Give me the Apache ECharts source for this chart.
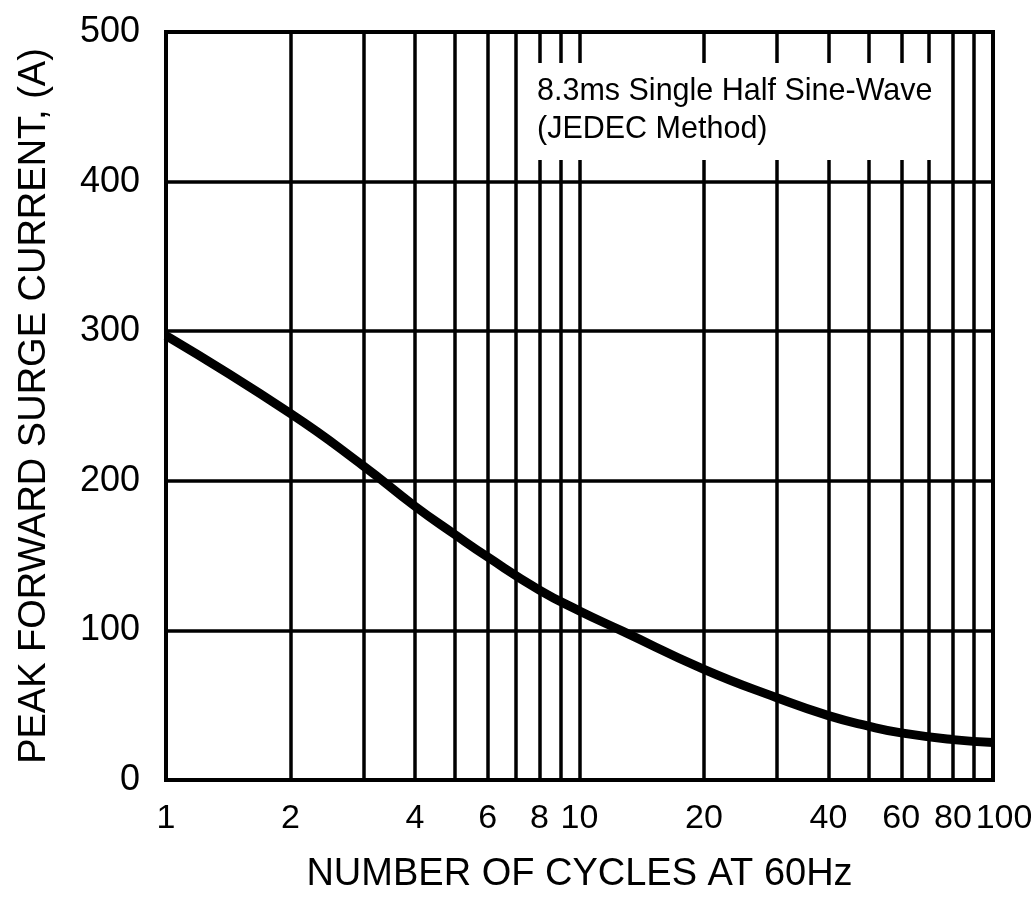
<!DOCTYPE html>
<html lang="en">
<head>
  <meta charset="UTF-8">
  <title>Peak Forward Surge Current</title>
  <style type="text/css">
    * {
      margin: 0;
      padding: 0;
    }
    html, body {
      width: 100%;
      height: 100%;
      overflow: hidden;
      background: #fff;
    }
    #main {
      width: 1031px;
      height: 898px;
    }
  </style>
  <script type="text/javascript" src="https://cdn.jsdelivr.net/npm/echarts@6/dist/echarts.min.js"></script>
</head>
<body>
<div id="main"></div>
<script type="text/javascript">
  // cycles at 60Hz (log axis) and surge current
  var cycles = [1, 2, 3, 4, 5, 6, 8, 10, 12.7, 20, 30, 40, 50, 60, 80, 100];
  var current = [297, 245, 210, 183, 164, 149, 127, 113, 99.5, 74, 55, 43, 36, 31.5, 27, 25];

  // vertical grid lines and labelled ticks
  var xGrid = [1, 2, 3, 4, 5, 6, 7, 8, 9, 10, 20, 30, 40, 50, 60, 70, 80, 90, 100];
  var xLabels = [1, 2, 4, 6, 8, 10, 20, 40, 60, 80];
  var xEndLabel = [100];

  var fontName = "'Liberation Sans', Arial, sans-serif";

  var points = [];
  for (var i = 0; i < cycles.length; i++) {
    points.push([cycles[i], current[i]]);
  }

  var tickFont = { fontFamily: fontName, fontSize: 34, color: '#000', margin: 22 };

  var myChart = echarts.init(document.getElementById('main'));
  var option = {
    animation: false,
    backgroundColor: '#fff',
    grid: {
      left: 166,
      right: 38,
      top: 32,
      bottom: 118,
      show: true,
      borderWidth: 4,
      borderColor: '#000',
      containLabel: false,
      outerBoundsMode: 'none'
    },
    xAxis: [
      {
        type: 'log',
        logBase: 10,
        min: 1,
        max: 100,
        name: 'NUMBER OF CYCLES AT 60Hz',
        nameLocation: 'middle',
        nameGap: 76,
        nameTextStyle: { fontFamily: fontName, fontSize: 38, color: '#000' },
        axisLine: { show: false },
        axisTick: { show: false, customValues: xGrid },
        axisLabel: Object.assign({
          customValues: xLabels,
          showMinLabel: true,
          hideOverlap: false,
          formatter: function (v) { return String(Math.round(v)); }
        }, tickFont),
        splitLine: { show: true, lineStyle: { color: '#000', width: 3.5 } },
        minorSplitLine: { show: false }
      },
      {
        // second bottom axis only carries the "100" label so 80 is not dropped
        type: 'log',
        logBase: 10,
        min: 1,
        max: 100,
        position: 'bottom',
        axisLine: { show: false },
        axisTick: { show: false, customValues: xEndLabel },
        axisLabel: Object.assign({
          customValues: xEndLabel,
          showMaxLabel: true,
          padding: [0, 0, 0, 22],
          formatter: function (v) { return String(Math.round(v)); }
        }, tickFont),
        splitLine: { show: false },
        minorSplitLine: { show: false }
      }
    ],
    yAxis: {
      type: 'value',
      min: 0,
      max: 500,
      interval: 100,
      name: 'PEAK FORWARD SURGE CURRENT, (A)',
      nameLocation: 'middle',
      nameGap: 112,
      nameTextStyle: { fontFamily: fontName, fontSize: 38, color: '#000' },
      axisLine: { show: false },
      axisTick: { show: false },
      axisLabel: { fontFamily: fontName, fontSize: 36, color: '#000', margin: 26 },
      splitLine: { show: true, lineStyle: { color: '#000', width: 3.5 } }
    },
    graphic: [
      {
        type: 'rect',
        left: 530,
        top: 63,
        z: 10,
        shape: { width: 412, height: 97 },
        style: { fill: '#fff' }
      },
      {
        type: 'text',
        left: 537,
        top: 73,
        z: 11,
        style: {
          text: '8.3ms Single Half Sine-Wave\n(JEDEC Method)',
          font: '30.5px ' + fontName,
          fill: '#000',
          lineHeight: 38
        }
      }
    ],
    series: [
      {
        type: 'line',
        xAxisIndex: 0,
        data: points,
        smooth: 0.5,
        showSymbol: false,
        lineStyle: { color: '#000', width: 9 }
      }
    ]
  };
  myChart.setOption(option);
</script>
</body>
</html>
